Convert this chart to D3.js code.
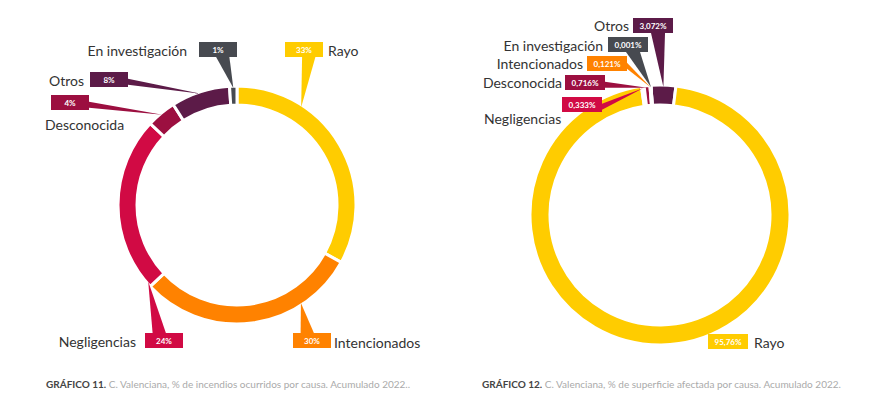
<!DOCTYPE html><html><head><meta charset="utf-8">
<script src="https://cdn.jsdelivr.net/npm/d3@7"></script>
<style>body{margin:0;background:#fff}text{font-family:Lato,sans-serif}</style></head><body>
<svg id="c" width="878" height="408"></svg>
<script>
const cats1=["Rayo","Intencionados","Negligencias","Desconocida","Otros","En investigación"];
const vals1=[33,30,24,4,8,1];
const labs1=["33%","30%","24%","4%","8%","1%"];
const cats2=["Otros","Rayo","Negligencias","Desconocida","Intencionados","En investigación"];
const vals2=[3.072,95.757,0.333,0.716,0.121,0.001];
const labs2=["3,072%","95,76%","0,333%","0,716%","0,121%","0,001%"];
const colors={"Rayo":"#FFCC00","Intencionados":"#FF8200","Negligencias":"#D10A44","Desconocida":"#9C0F40","Otros":"#5C1B48","En investigación":"#474A50"};
const svg=d3.select("#c");
// layout: [boxX, boxY, textX, textY, anchor, side, fraction along slice]
const lay1={"Rayo":[285,42,328,56,"start","bottom",0.28],"Intencionados":[293,333,334,348,"start","top",0.26],
"Negligencias":[145,333,136,347,"end","top",0.03],"Desconocida":[51,95,45,130,"start","right",0.5],
"Otros":[90,72,84,86,"end","right",0.5],"En investigación":[199,42,187,56,"end","bottom",0.5]};
const lay2={"Otros":[633,18,629,31,"end","bottom",0.5],"Rayo":[708,334,754,348,"start","top",0.44],
"Negligencias":[562,97,484,124,"start","right",0.5],"Desconocida":[565,75,562,88,"end","right",0.5],
"Intencionados":[587,56,583,69,"end","right",0.5],"En investigación":[608,37,603,51,"end","bottom",0.5]};
function donut(cx,cy,r0,r1,cats,vals,labs,lay,start,bw){
  const g=svg.append("g").attr("transform",`translate(${cx},${cy})`);
  const pie=d3.pie().sort(null).value(d=>d).startAngle(start).endAngle(start+2*Math.PI);
  const arcs=pie(vals);
  const arc=d3.arc().innerRadius(r0).outerRadius(r1);
  g.selectAll("path.s").data(arcs).join("path").attr("d",arc)
   .attr("fill",(d,i)=>colors[cats[i]]).attr("stroke","#fff").attr("stroke-width",3);
  arcs.forEach((a,i)=>{
    const L=lay[cats[i]];const [bx,by,tx,ty,anc,side,f]=L;const bh=15;
    const ang=a.startAngle+(a.endAngle-a.startAngle)*f;
    const px=cx+Math.sin(ang)*(r1-2),py=cy-Math.cos(ang)*(r1-2);
    let p;
    if(side==="bottom")p=[[bx+bw*0.45,by+bh],[bx+bw*0.8,by+bh],[px,py]];
    else if(side==="top")p=[[bx+bw*0.2,by],[bx+bw*0.55,by],[px,py]];
    else p=[[bx+bw,by+bh*0.45],[bx+bw,by+bh*0.85],[px,py]];
    const col=colors[cats[i]];
    svg.append("polygon").attr("points",p.map(q=>q.join(",")).join(" ")).attr("fill",col);
    svg.append("rect").attr("x",bx).attr("y",by).attr("width",bw).attr("height",bh).attr("fill",col);
    svg.append("text").attr("x",bx+bw/2).attr("y",by+11).attr("text-anchor","middle")
      .attr("font-size",8).attr("font-weight","bold").attr("fill","#fff").text(labs[i]);
    svg.append("text").attr("x",tx).attr("y",ty).attr("text-anchor",anc)
      .attr("font-size",14).attr("fill","#333").text(cats[i]);
  });
}
donut(237,205,100,119,cats1,vals1,labs1,lay1,0,38);
donut(660,215,110,130,cats2,vals2,labs2,lay2,-0.07,40);
function cap(x,b,t){const tx=svg.append("text").attr("x",x).attr("y",388).attr("font-size",10);
 tx.append("tspan").attr("fill","#444").attr("font-weight","bold").text(b);
 tx.append("tspan").attr("fill","#aaa").text(" "+t);}
cap(46,"GRÁFICO 11.","C. Valenciana, % de incendios ocurridos por causa. Acumulado 2022..");
cap(482,"GRÁFICO 12.","C. Valenciana, % de superficie afectada por causa. Acumulado 2022.");
</script></body></html>
